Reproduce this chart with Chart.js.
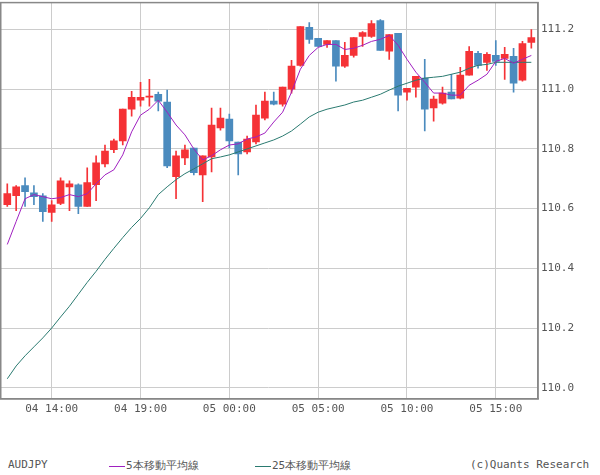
<!DOCTYPE html>
<html><head><meta charset="utf-8">
<script src="https://cdn.jsdelivr.net/npm/chart.js@4"></script>
<style>
body{margin:0;background:#fff;width:600px;height:475px;position:relative;overflow:hidden;font-family:"DejaVu Sans Mono",monospace;}
#wrap{position:absolute;left:0;top:-7px;width:600px;height:427px;}
.lg{position:absolute;top:458px;font-size:11px;color:#555;white-space:nowrap;}
.ln{display:inline-block;width:16px;height:0;border-top:1px solid;vertical-align:middle;margin-right:1px;}
</style></head><body>
<div id="wrap"><canvas id="c" width="600" height="427"></canvas></div>
<div class="lg" style="left:8px">AUDJPY</div>
<div class="lg" style="left:109px"><span class="ln" style="border-color:#a020c0"></span>5本移動平均線</div>
<div class="lg" style="left:255px"><span class="ln" style="border-color:#2a7a70"></span>25本移動平均線</div>
<div class="lg" style="left:470px">(c)Quants Research</div>
<script>
const open  = [110.613,110.643,110.677,110.653,110.643,110.587,110.617,110.673,110.680,110.607,110.680,110.750,110.797,110.827,110.933,110.963,110.973,110.983,110.957,110.707,110.770,110.803,110.713,110.773,110.870,110.900,110.823,110.790,110.823,110.903,110.960,110.950,111.000,111.080,111.207,111.170,111.150,111.163,111.077,111.113,111.177,111.177,111.230,111.127,111.187,110.990,111.007,111.037,110.937,110.953,110.990,110.970,111.047,111.120,111.090,111.113,111.103,111.110,111.030,111.157];
const high  = [110.683,110.677,110.703,110.677,110.650,110.627,110.703,110.693,110.683,110.737,110.777,110.813,110.833,110.933,110.993,111.023,111.033,110.990,110.997,110.793,110.813,110.803,110.777,110.937,110.937,110.917,110.823,110.843,110.947,110.990,110.990,111.007,111.097,111.210,111.223,111.170,111.163,111.163,111.157,111.173,111.193,111.230,111.233,111.183,111.187,111.003,111.043,111.100,110.977,111.007,111.050,111.073,111.143,111.127,111.123,111.163,111.140,111.137,111.160,111.200];
const low   = [110.607,110.593,110.607,110.613,110.557,110.557,110.613,110.593,110.583,110.607,110.627,110.740,110.787,110.813,110.910,110.943,110.943,110.927,110.737,110.633,110.747,110.713,110.623,110.723,110.863,110.803,110.713,110.783,110.817,110.897,110.947,110.943,110.987,111.077,111.153,111.143,111.140,111.027,111.073,111.107,111.143,111.173,111.130,111.100,110.927,110.963,110.973,110.860,110.893,110.950,110.967,110.967,111.047,111.070,111.063,111.080,111.033,110.990,111.027,111.137];
const close = [110.650,110.673,110.657,110.640,110.590,110.613,110.693,110.683,110.607,110.687,110.753,110.793,110.827,110.933,110.973,110.973,110.977,110.960,110.743,110.777,110.797,110.720,110.777,110.880,110.903,110.827,110.783,110.833,110.913,110.960,110.950,111.007,111.077,111.210,111.167,111.143,111.163,111.077,111.113,111.173,111.190,111.220,111.130,111.183,110.980,111.003,111.043,110.933,110.967,110.987,110.967,111.047,111.127,111.080,111.117,111.093,111.117,111.020,111.153,111.173];
const ma5   = [110.480,110.557,110.633,110.647,110.640,110.633,110.637,110.647,110.640,110.650,110.683,110.713,110.730,110.780,110.857,110.913,110.933,110.963,110.923,110.880,110.847,110.800,110.763,110.777,110.797,110.813,110.817,110.833,110.840,110.853,110.890,110.923,110.990,111.067,111.113,111.140,111.150,111.150,111.133,111.137,111.147,111.160,111.167,111.180,111.147,111.100,111.057,111.023,110.987,110.987,110.980,110.980,111.013,111.030,111.050,111.093,111.103,111.087,111.100,111.113];
const ma25  = [110.030,110.073,110.107,110.137,110.167,110.200,110.237,110.273,110.313,110.353,110.390,110.430,110.467,110.503,110.537,110.567,110.603,110.647,110.673,110.697,110.717,110.733,110.750,110.767,110.773,110.780,110.790,110.800,110.810,110.820,110.830,110.843,110.860,110.883,110.907,110.923,110.933,110.940,110.947,110.957,110.963,110.973,110.983,110.997,111.010,111.020,111.030,111.037,111.040,111.043,111.050,111.057,111.070,111.080,111.083,111.090,111.090,111.090,111.090,111.090];
const tickIdx = [5,15,25,35,45,55];
const tickLabels = ["04 14:00","04 19:00","05 00:00","05 05:00","05 10:00","05 15:00"];
const yTicks = [110.0,110.2,110.4,110.6,110.8,111.0,111.2];

const UP='#f53236', DN='#4b8bbe';
const col = open.map((o,i)=> close[i]>=o?UP:DN);
const idx = open.map((_,i)=>i);
Chart.defaults.font.family='"DejaVu Sans Mono", monospace';
const frame={id:'frame',afterDraw(c){const a=c.chartArea,x=c.ctx;x.save();x.strokeStyle='#888';x.lineWidth=1.5;x.strokeRect(a.left+0.75,a.top,a.right-a.left-0.75,a.bottom-a.top);x.restore();}};
new Chart(document.getElementById('c'),{
 data:{datasets:[
  {type:'line',order:0,data:idx.map(i=>({x:i,y:ma5[i]})),borderColor:'#a020c0',borderWidth:1,pointRadius:0,tension:0},
  {type:'line',order:0,data:idx.map(i=>({x:i,y:ma25[i]})),borderColor:'#2a7a70',borderWidth:1,pointRadius:0,tension:0},
  {type:'bar',order:1,data:idx.map(i=>({x:i,y:[open[i],close[i]]})),backgroundColor:col,barThickness:7,minBarLength:1,grouped:false},
  {type:'bar',order:2,data:idx.map(i=>({x:i,y:[low[i],high[i]]})),backgroundColor:col,barThickness:1,grouped:false}
 ]},
 plugins:[frame],
 options:{responsive:false,animation:false,devicePixelRatio:1,
  layout:{padding:{left:0,top:0,right:0,bottom:0}},
  plugins:{legend:{display:false},tooltip:{enabled:false}},
  scales:{
   x:{type:'linear',min:-0.82,max:59.75,offset:false,
      afterBuildTicks:s=>{s.ticks=tickIdx.map(v=>({value:v}));},
      ticks:{autoSkip:false,maxRotation:0,color:'#555',font:{size:11},padding:4,callback:v=>tickLabels[tickIdx.indexOf(v)]},
      grid:{color:'#cccccc',drawTicks:false,offset:false},border:{color:'#888',width:1.5}},
   y:{position:'right',min:109.963,max:111.29,
      afterBuildTicks:s=>{s.ticks=yTicks.map(v=>({value:v}));},
      afterFit:s=>{s.width=62;},
      ticks:{color:'#555',font:{size:11},padding:3,callback:v=>v.toFixed(1)},
      grid:{color:'#cccccc',drawTicks:false},border:{color:'#888',width:1.5}}
  }}
});
</script></body></html>
